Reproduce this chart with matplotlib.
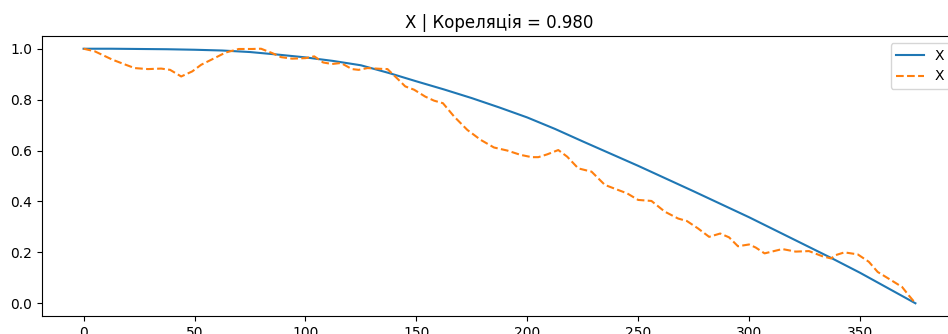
import matplotlib
matplotlib.use("Agg")
import matplotlib.pyplot as plt

# data
blue_x = [0, 12.5, 25, 37.5, 50, 62.5, 75, 87.5, 100, 112.5, 125, 137.5, 150, 162.5, 175,
          187.5, 200, 212.5, 225, 237.5, 250, 262.5, 275, 287.5, 300, 312.5, 325, 337.5,
          350, 362.5, 375]
blue_y = [1.0, 1.0, 0.999, 0.998, 0.996, 0.993, 0.987, 0.977, 0.966, 0.952, 0.935, 0.905,
          0.872, 0.840, 0.806, 0.769, 0.730, 0.685, 0.636, 0.588, 0.540, 0.490, 0.440,
          0.389, 0.338, 0.284, 0.230, 0.176, 0.120, 0.060, 0.0]

orange_x = [0, 5, 13, 19, 23, 29, 35, 39, 44, 49, 53, 59, 64, 70, 76, 80, 85, 89, 94, 100,
            104, 108, 112, 116, 121, 124, 128, 134, 137, 142, 145, 149, 154, 158, 162, 167,
            173, 179, 185, 191, 197, 202, 205, 209, 214, 218, 223, 229, 235, 241, 245, 250,
            256, 262, 268, 272, 277, 282, 287, 291, 295, 300, 303, 307, 315, 321, 327, 333,
            337, 339, 343, 349, 354, 358, 364, 369, 372, 375]
orange_y = [1.0, 0.99, 0.957, 0.937, 0.924, 0.92, 0.922, 0.917, 0.891, 0.911, 0.937, 0.963,
            0.985, 0.999, 0.999, 1.0, 0.983, 0.967, 0.961, 0.963, 0.97, 0.946, 0.94, 0.944,
            0.92, 0.917, 0.924, 0.921, 0.92, 0.878, 0.852, 0.839, 0.812, 0.796, 0.786, 0.734,
            0.681, 0.642, 0.612, 0.600, 0.583, 0.574, 0.574, 0.585, 0.602, 0.576, 0.530,
            0.517, 0.465, 0.445, 0.432, 0.406, 0.402, 0.36, 0.333, 0.323, 0.294, 0.261,
            0.274, 0.259, 0.224, 0.231, 0.219, 0.196, 0.213, 0.203, 0.205, 0.185, 0.176,
            0.189, 0.2, 0.192, 0.163, 0.123, 0.091, 0.064, 0.031, 0.0]

fig = plt.figure(figsize=(9.48, 3.34), dpi=100)
# axes run past the right edge, like the cropped original
ax = fig.add_axes([42 / 948, 18 / 334, 915 / 948, 280 / 334])

ax.plot(blue_x, blue_y, label="X")
ax.plot(orange_x, orange_y, linestyle="--", label="X")
ax.set_title("X | Кореляція = 0.980")
ax.legend(loc="upper right")

fig.savefig("out.png", dpi=100)
